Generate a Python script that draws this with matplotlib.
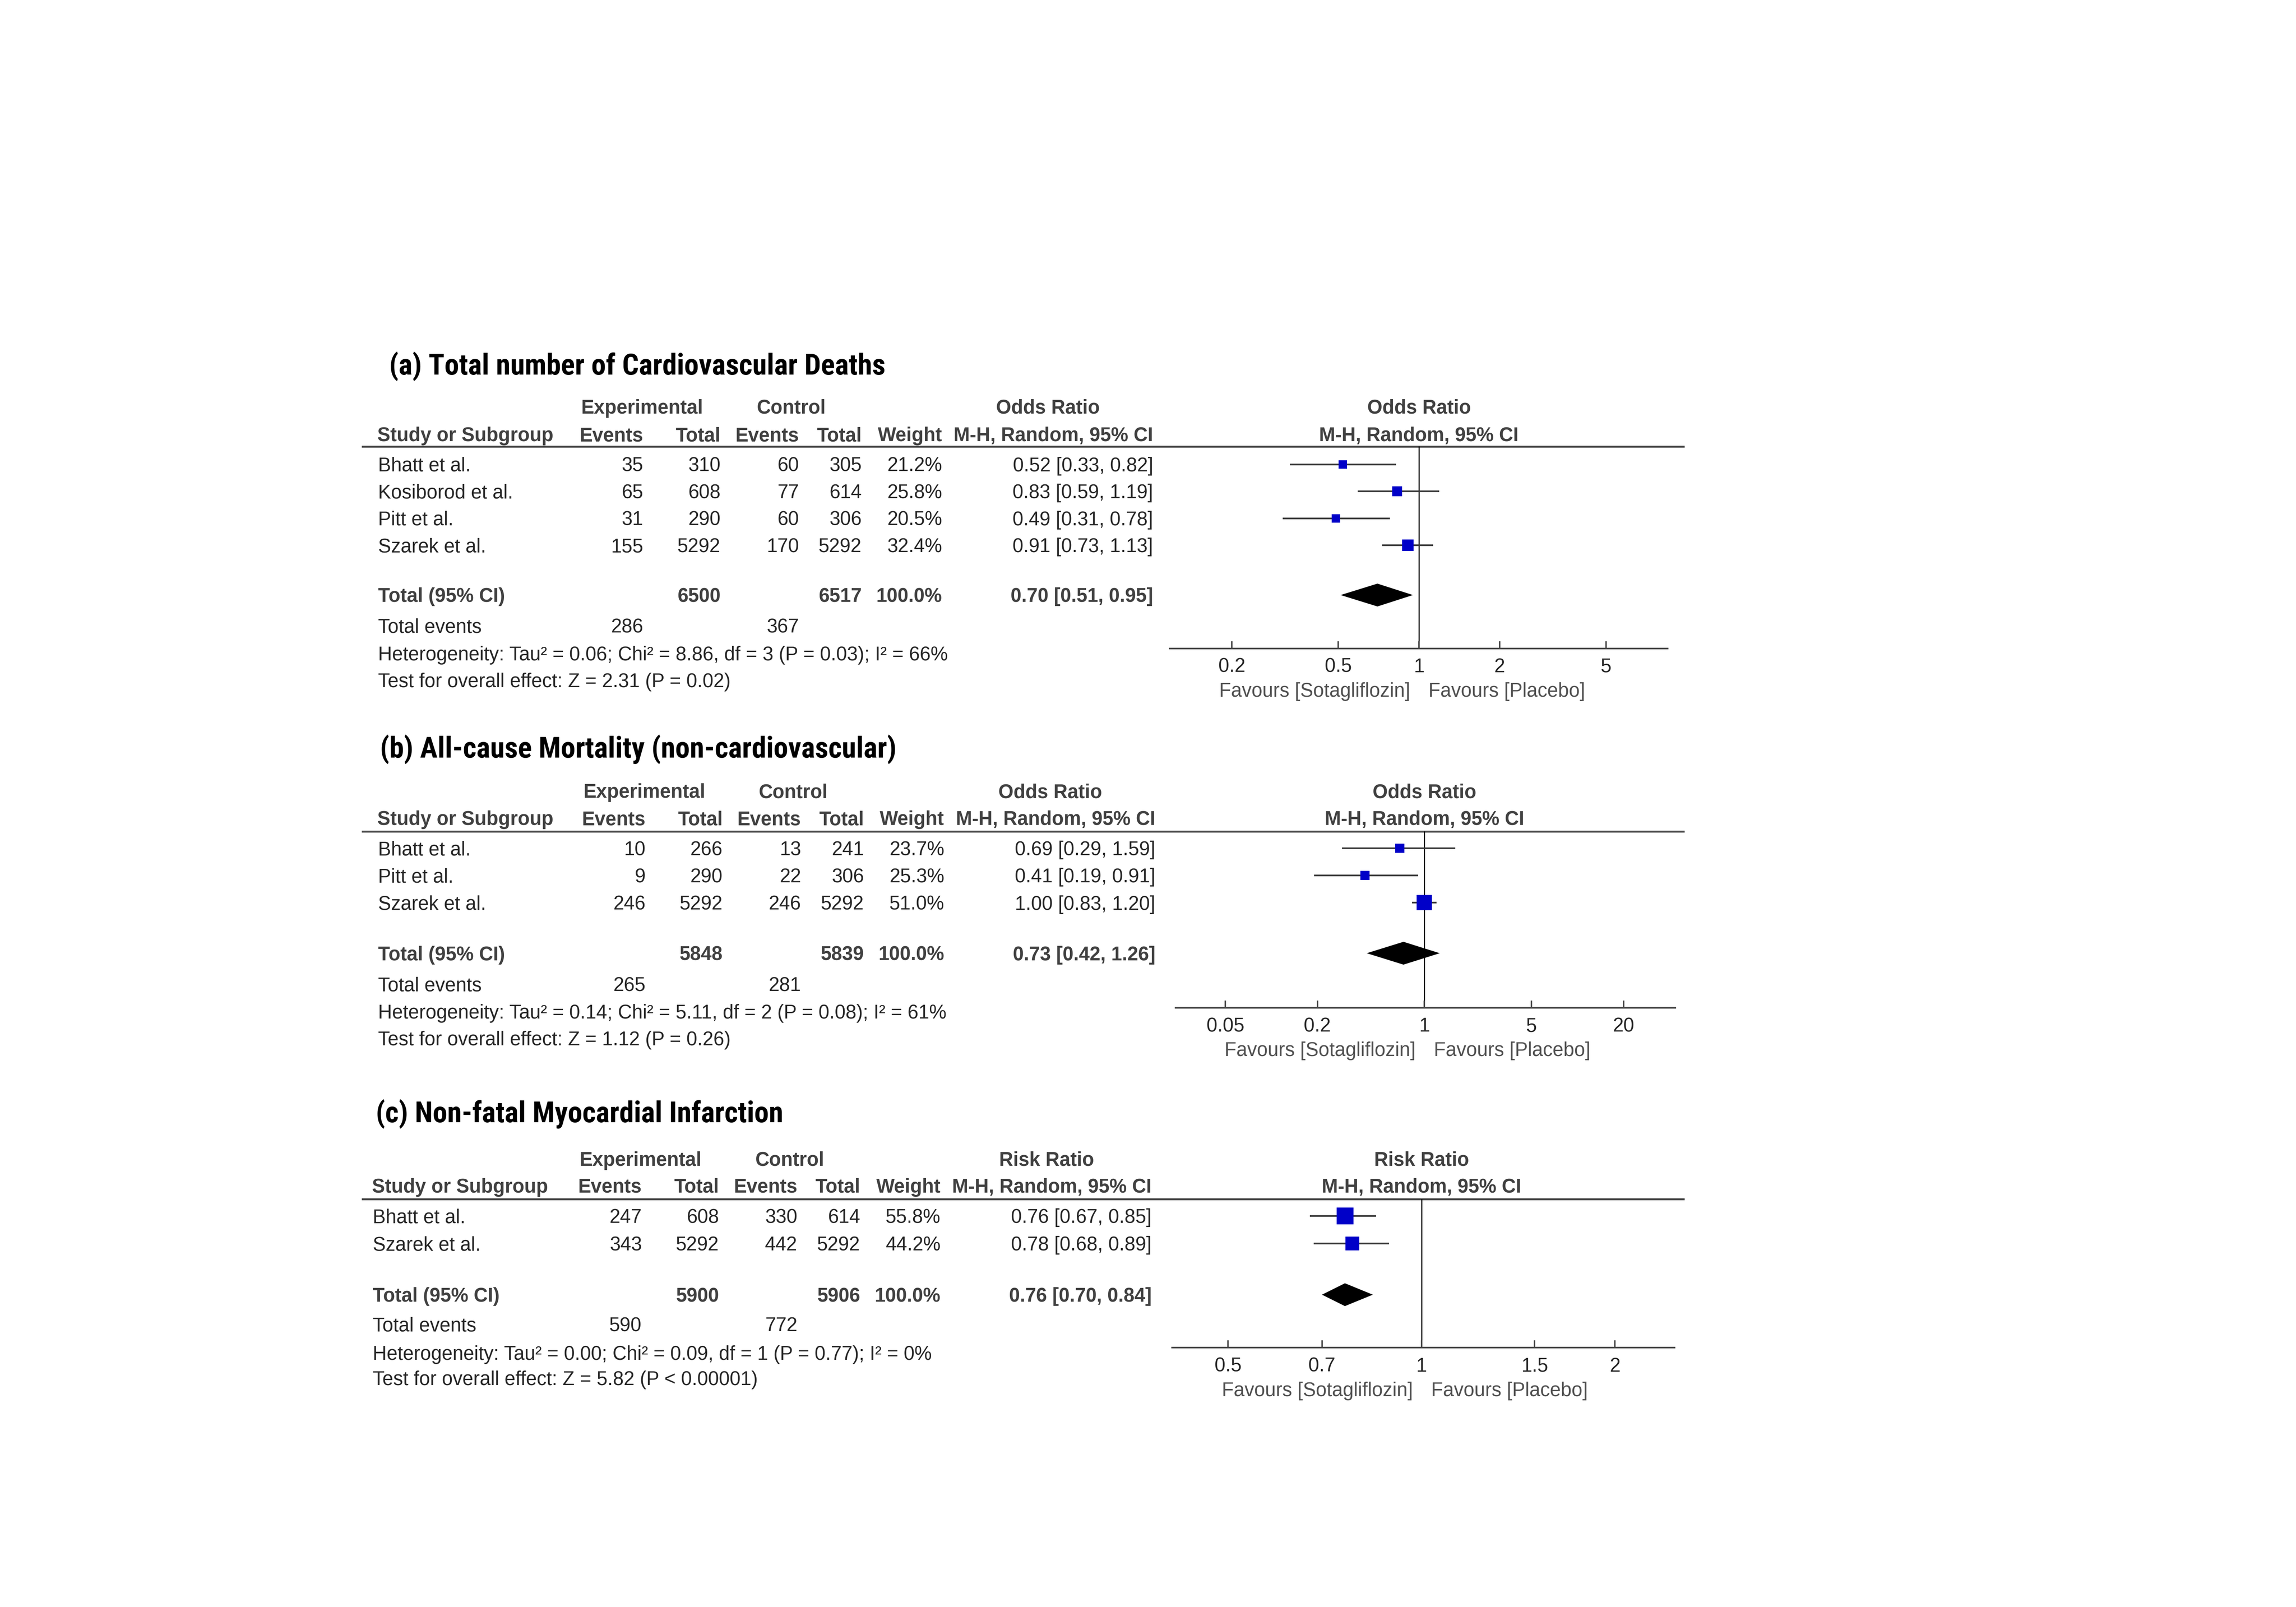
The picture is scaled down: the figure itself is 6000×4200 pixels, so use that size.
import os
import matplotlib
matplotlib.use("Agg")
import matplotlib.pyplot as plt
from matplotlib.ticker import NullLocator
from matplotlib import font_manager as fm

# ---------------- data ----------------
# (a) Total number of Cardiovascular Deaths
a_title = "(a) Total number of Cardiovascular Deaths"
a_measure = "Odds Ratio"
a_studies = ["Bhatt et al.", "Kosiborod et al.", "Pitt et al.", "Szarek et al."]
a_exp_events = [35, 65, 31, 155]
a_exp_total = [310, 608, 290, 5292]
a_ctl_events = [60, 77, 60, 170]
a_ctl_total = [305, 614, 306, 5292]
a_weight = [21.2, 25.8, 20.5, 32.4]
a_est = [0.52, 0.83, 0.49, 0.91]
a_lo = [0.33, 0.59, 0.31, 0.73]
a_hi = [0.82, 1.19, 0.78, 1.13]
a_pooled = [0.70, 0.51, 0.95]
a_sum_total = [6500, 6517]
a_sum_events = [286, 367]
a_het = "Heterogeneity: Tau\u00b2 = 0.06; Chi\u00b2 = 8.86, df = 3 (P = 0.03); I\u00b2 = 66%"
a_test = "Test for overall effect: Z = 2.31 (P = 0.02)"
a_ticks = [0.2, 0.5, 1, 2, 5]
a_tick_labels = ["0.2", "0.5", "1", "2", "5"]
a_xlim = [0.1176, 8.5]

# (b) All-cause Mortality (non-cardiovascular)
b_title = "(b) All-cause Mortality (non-cardiovascular)"
b_measure = "Odds Ratio"
b_studies = ["Bhatt et al.", "Pitt et al.", "Szarek et al."]
b_exp_events = [10, 9, 246]
b_exp_total = [266, 290, 5292]
b_ctl_events = [13, 22, 246]
b_ctl_total = [241, 306, 5292]
b_weight = [23.7, 25.3, 51.0]
b_est = [0.69, 0.41, 1.00]
b_lo = [0.29, 0.19, 0.83]
b_hi = [1.59, 0.91, 1.20]
b_pooled = [0.73, 0.42, 1.26]
b_sum_total = [5848, 5839]
b_sum_events = [265, 281]
b_het = "Heterogeneity: Tau\u00b2 = 0.14; Chi\u00b2 = 5.11, df = 2 (P = 0.08); I\u00b2 = 61%"
b_test = "Test for overall effect: Z = 1.12 (P = 0.26)"
b_ticks = [0.05, 0.2, 1, 5, 20]
b_tick_labels = ["0.05", "0.2", "1", "5", "20"]
b_xlim = [0.0236, 43.5]

# (c) Non-fatal Myocardial Infarction
c_title = "(c) Non-fatal Myocardial Infarction"
c_measure = "Risk Ratio"
c_studies = ["Bhatt et al.", "Szarek et al."]
c_exp_events = [247, 343]
c_exp_total = [608, 5292]
c_ctl_events = [330, 442]
c_ctl_total = [614, 5292]
c_weight = [55.8, 44.2]
c_est = [0.76, 0.78]
c_lo = [0.67, 0.68]
c_hi = [0.85, 0.89]
c_pooled = [0.76, 0.70, 0.84]
c_sum_total = [5900, 5906]
c_sum_events = [590, 772]
c_het = "Heterogeneity: Tau\u00b2 = 0.00; Chi\u00b2 = 0.09, df = 1 (P = 0.77); I\u00b2 = 0%"
c_test = "Test for overall effect: Z = 5.82 (P < 0.00001)"
c_ticks = [0.5, 0.7, 1, 1.5, 2]
c_tick_labels = ["0.5", "0.7", "1", "1.5", "2"]
c_xlim = [0.409, 2.475]

fav_left = "Favours [Sotagliflozin]"
fav_right = "Favours [Placebo]"

# ---------------- style / layout ----------------
plt.rcParams["font.family"] = ["Liberation Sans", "DejaVu Sans"]
W, H = 1568.0, 1097.0          # layout units (reference px)
PT = 6000.0 / W / 300.0 * 72.0  # points per layout unit
FS = 12.2
BODY = "#262626"
HEAD = "#404040"
GREY = "#505050"
LINE = "#454545"
CI = "#3a3a3a"
BLUE = "#0000c8"


def pick_title_font():
    files = [f.fname for f in fm.fontManager.ttflist]
    order = ["LiberationSansNarrow-Bold.", "ArialNarrow", "Arial Narrow Bold",
             "RobotoCondensed-Bold.", "NotoSans-CondensedBold.", "OpenSans-CondBold.",
             "OpenSans-CondensedBold.", "OpenSans_Condensed-Bold.", "DejaVuSansCondensed-Bold."]
    for key in order:
        for fn in files:
            b = os.path.basename(fn)
            if b.startswith(key) and "Italic" not in b and "Oblique" not in b:
                return fn
    for fn in files:
        b = os.path.basename(fn).lower()
        if (("condensed" in b or "narrow" in b or "cond" in b) and "bold" in b
                and not any(k in b for k in ("italic", "oblique", "semi", "extra", "ultra"))):
            return fn
    return None


title_fn = pick_title_font()
if title_fn:
    TITLE_FP = dict(fontproperties=fm.FontProperties(fname=title_fn, weight="bold"))
else:
    TITLE_FP = dict(family=["Liberation Sans", "DejaVu Sans"], fontweight="bold")

fig = plt.figure(figsize=(20, 14), dpi=300)
base = fig.add_axes([0, 0, 1, 1])
base.set_xlim(0, W)
base.set_ylim(H, 0)
base.axis("off")

# fit the title size to the reference width of title (a)
_probe = base.text(0, 0, a_title, fontsize=17.0, **TITLE_FP)
_r = fig.canvas.get_renderer()
_wlay = _probe.get_window_extent(_r).width / fig.bbox.width * W
TFS = min(19.0, 17.0 * 339.0 / _wlay)
_probe.remove()

EM = FS / PT


def bl(y, em=EM):
    return y + 0.36 * em


def txt(x, y, s, ha="left", bold=False, color=BODY, size=FS):
    base.text(x, bl(y, size / PT), s, ha=ha, va="baseline", fontsize=size,
              fontweight="bold" if bold else "normal", color=color)


def panel(title, measure, studies, ee, et, ce, ct, wt, est, lo, hi, pooled,
          sum_total, sum_events, het, test, ticks, tick_labels, xlim, L):
    dx = L["dx"]
    cx = {"ev": 439.3 + dx, "tot": 492 + dx, "cev": 545.6 + dx, "ctot": 588.5 + dx,
          "wt": 643.4 + dx, "or": 787.5 + dx}
    left = L["left"]
    t = base.text(L["tx"], bl(L["ty"], TFS / PT), title, ha="left", va="baseline",
                  color="black", **TITLE_FP)
    t.set_fontsize(TFS)
    # header row 1
    txt(438.5 + dx, L["h1"], "Experimental", ha="center", bold=True, color=HEAD)
    txt(540.4 + dx, L["h1"], "Control", ha="center", bold=True, color=HEAD)
    txt(715.7 + dx, L["h1"], measure, ha="center", bold=True, color=HEAD)
    # header row 2
    txt(left, L["h2"], "Study or Subgroup", bold=True, color=HEAD)
    for key, s in [("ev", "Events"), ("tot", "Total"), ("cev", "Events"),
                   ("ctot", "Total"), ("wt", "Weight"), ("or", "M-H, Random, 95% CI")]:
        txt(cx[key], L["h2"], s, ha="right", bold=True, color=HEAD)
    base.plot([247, 1150.5], [L["line"], L["line"]], color=LINE, lw=1.2,
              solid_capstyle="butt")
    # rows
    for i, name in enumerate(studies):
        y = L["r0"] + i * L["step"]
        txt(left + 0.5, y, name)
        txt(cx["ev"], y, str(ee[i]), ha="right")
        txt(cx["tot"], y, str(et[i]), ha="right")
        txt(cx["cev"], y, str(ce[i]), ha="right")
        txt(cx["ctot"], y, str(ct[i]), ha="right")
        txt(cx["wt"], y, f"{wt[i]:.1f}%", ha="right")
        txt(cx["or"], y, f"{est[i]:.2f} [{lo[i]:.2f}, {hi[i]:.2f}]", ha="right")
    yT = L["tot"]
    txt(left + 0.5, yT, "Total (95% CI)", bold=True, color=HEAD)
    txt(cx["tot"], yT, str(sum_total[0]), ha="right", bold=True, color=HEAD)
    txt(cx["ctot"], yT, str(sum_total[1]), ha="right", bold=True, color=HEAD)
    txt(cx["wt"], yT, "100.0%", ha="right", bold=True, color=HEAD)
    txt(cx["or"], yT, f"{pooled[0]:.2f} [{pooled[1]:.2f}, {pooled[2]:.2f}]",
        ha="right", bold=True, color=HEAD)
    txt(left + 0.5, L["tev"], "Total events")
    txt(cx["ev"], L["tev"], str(sum_events[0]), ha="right")
    txt(cx["cev"], L["tev"], str(sum_events[1]), ha="right")
    txt(left + 0.5, L["het"], het)
    txt(left + 0.5, L["test"], test)

    # forest axes
    x0, x1 = L["fx"]
    ya = L["axis"]
    yl = L["line"]
    ax = fig.add_axes([x0 / W, 1 - ya / H, (x1 - x0) / W, (ya - yl) / H])
    ax.set_xscale("log")
    ax.set_xlim(*xlim)
    ax.set_ylim(ya, yl)
    ax.patch.set_visible(False)
    for s in ("top", "left", "right"):
        ax.spines[s].set_visible(False)
    ax.spines["bottom"].set_color(LINE)
    ax.spines["bottom"].set_linewidth(1.0)
    ax.set_yticks([])
    ax.set_xticks(ticks)
    ax.set_xticklabels(tick_labels)
    ax.xaxis.set_minor_locator(NullLocator())
    ax.tick_params(axis="x", direction="in", length=5 * PT, width=0.9,
                   color=LINE, labelsize=FS, labelcolor=BODY, pad=5.8)
    ax.axvline(1, color="black", lw=0.7, zorder=1)
    for i in range(len(studies)):
        y = L["r0"] + i * L["step"]
        ax.plot([lo[i], hi[i]], [y, y], color=CI, lw=1.05, zorder=2,
                solid_capstyle="butt", clip_on=False)
        ax.plot([est[i]], [y], marker="s", ms=0.68 * wt[i] ** 0.7 * PT, mew=0,
                color=BLUE, zorder=3, clip_on=False)
    hh = 7.8
    ax.fill([pooled[1], pooled[0], pooled[2], pooled[0]],
            [yT, yT - hh, yT, yT + hh], color="black", lw=0, zorder=3)
    # right header
    for yy, s in [(L["h1"], measure), (L["h2"], "M-H, Random, 95% CI")]:
        ax.annotate(s, xy=(1, bl(yy)), xycoords="data", ha="center", va="baseline",
                    fontsize=FS, fontweight="bold", color=HEAD, annotation_clip=False)
    ax.annotate(fav_left, xy=(1, bl(L["fav"])), xycoords="data", xytext=(-5.5, 0),
                textcoords="offset points", ha="right", va="baseline", fontsize=FS,
                color=GREY, annotation_clip=False)
    ax.annotate(fav_right, xy=(1, bl(L["fav"])), xycoords="data", xytext=(6.0, 0),
                textcoords="offset points", ha="left", va="baseline", fontsize=FS,
                color=GREY, annotation_clip=False)


LA = dict(dx=0.0, left=257.6, tx=265.7, ty=248.6, h1=277.5, h2=296.5, line=304.8,
          r0=317.0, step=18.4, tot=406.2, tev=427.0, het=446.0, test=464.2,
          axis=442.6, fx=(799.0, 1139.0), fav=470.9)
LB = dict(dx=1.5, left=257.6, tx=259.5, ty=510.0, h1=539.8, h2=558.4, line=567.5,
          r0=579.0, step=18.6, tot=650.7, tev=671.8, het=690.6, test=708.7,
          axis=688.0, fx=(802.7, 1144.0), fav=716.0)
LC = dict(dx=-1.0, left=254.0, tx=256.6, ty=758.8, h1=791.0, h2=809.3, line=818.6,
          r0=830.1, step=18.7, tot=883.8, tev=904.0, het=923.5, test=940.8,
          axis=920.0, fx=(800.4, 1143.5), fav=948.3)

panel(a_title, a_measure, a_studies, a_exp_events, a_exp_total, a_ctl_events,
      a_ctl_total, a_weight, a_est, a_lo, a_hi, a_pooled, a_sum_total, a_sum_events,
      a_het, a_test, a_ticks, a_tick_labels, a_xlim, LA)
panel(b_title, b_measure, b_studies, b_exp_events, b_exp_total, b_ctl_events,
      b_ctl_total, b_weight, b_est, b_lo, b_hi, b_pooled, b_sum_total, b_sum_events,
      b_het, b_test, b_ticks, b_tick_labels, b_xlim, LB)
panel(c_title, c_measure, c_studies, c_exp_events, c_exp_total, c_ctl_events,
      c_ctl_total, c_weight, c_est, c_lo, c_hi, c_pooled, c_sum_total, c_sum_events,
      c_het, c_test, c_ticks, c_tick_labels, c_xlim, LC)

fig.savefig("out.png", dpi=300, facecolor="white")
